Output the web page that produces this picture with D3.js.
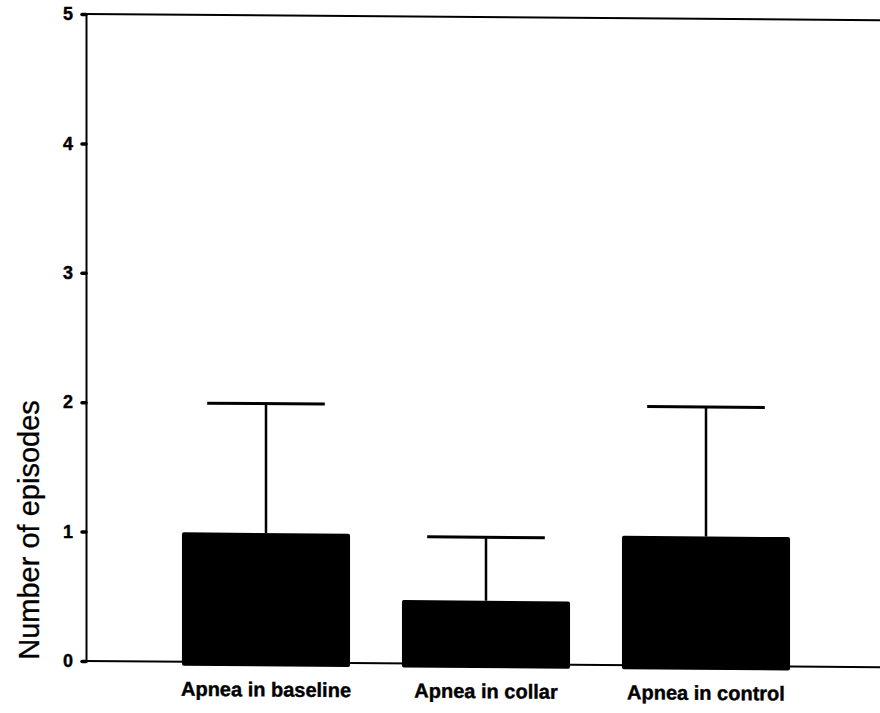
<!DOCTYPE html>
<html>
<head>
<meta charset="utf-8">
<script src="https://cdn.jsdelivr.net/npm/d3@7"></script>
<style>
  html, body { margin: 0; padding: 0; background: #fff; }
  svg { display: block; }
  text { font-family: "Liberation Sans", Arial, sans-serif; fill: #000; }
</style>
</head>
<body>
<svg id="chart" width="880" height="713"></svg>
<script>
const categories = ["Apnea in baseline", "Apnea in collar", "Apnea in control"];
const means = [1.0, 0.49, 1.0];
const upper = [2.0, 0.98, 2.0];
const yTicks = [0, 1, 2, 3, 4, 5];
const yTitle = "Number of episodes";

const svg = d3.select("#chart");
const x0 = 86, xEnd = 900;
// the scanned original slopes slightly downward to the right
const g = svg.append("g").attr("transform", `translate(${x0},0) skewY(0.45) translate(${-x0},0)`);

const y = d3.scaleLinear().domain([0, 5]).range([661, 14]);
const x = d3.scaleBand().domain(categories).range([156, 816])
  .paddingInner(0.236).paddingOuter(0.118);

// top frame line
g.append("line").attr("x1", x0).attr("x2", xEnd).attr("y1", y(5)).attr("y2", y(5))
  .attr("stroke", "#000").attr("stroke-width", 2);

// bars
g.selectAll("rect.bar").data(categories).enter().append("rect")
  .attr("class", "bar")
  .attr("x", d => x(d))
  .attr("width", x.bandwidth())
  .attr("y", (d, i) => y(means[i]))
  .attr("height", (d, i) => y(0) - y(means[i]) + 4)
  .attr("rx", 2)
  .attr("fill", "#000");

// error bars
const capW = x.bandwidth() * 0.7;
g.selectAll("line.err").data(categories).enter().append("line")
  .attr("class", "err")
  .attr("x1", d => x(d) + x.bandwidth() / 2)
  .attr("x2", d => x(d) + x.bandwidth() / 2)
  .attr("y1", (d, i) => y(means[i]))
  .attr("y2", (d, i) => y(upper[i]))
  .attr("stroke", "#000").attr("stroke-width", 2.5);
g.selectAll("line.cap").data(categories).enter().append("line")
  .attr("class", "cap")
  .attr("x1", d => x(d) + x.bandwidth() / 2 - capW / 2)
  .attr("x2", d => x(d) + x.bandwidth() / 2 + capW / 2)
  .attr("y1", (d, i) => y(upper[i]))
  .attr("y2", (d, i) => y(upper[i]))
  .attr("stroke", "#000").attr("stroke-width", 3);

// bottom axis line
g.append("line").attr("x1", x0).attr("x2", xEnd).attr("y1", y(0)).attr("y2", y(0))
  .attr("stroke", "#000").attr("stroke-width", 2);

// y axis
const yAxis = d3.axisLeft(y).tickValues(yTicks).tickSize(4).tickPadding(9)
  .tickFormat(d3.format("d"));
const ya = svg.append("g").attr("transform", `translate(${x0},0)`).call(yAxis);
ya.select(".domain").attr("stroke", "#000").attr("stroke-width", 2);
ya.selectAll(".tick line").attr("stroke", "#000").attr("stroke-width", 3.5)
  .attr("stroke-linecap", "round");
ya.selectAll(".tick text").attr("font-size", 18).attr("font-weight", "bold")
  .attr("font-family", "'Liberation Sans', Arial, sans-serif").attr("fill", "#000")
  .attr("stroke", "#000").attr("stroke-width", 0.4);

// category labels
g.selectAll("text.cat").data(categories).enter().append("text")
  .attr("class", "cat")
  .attr("x", d => x(d) + x.bandwidth() / 2)
  .attr("y", 695)
  .attr("text-anchor", "middle")
  .attr("font-size", 20).attr("font-weight", "bold")
  .attr("stroke", "#000").attr("stroke-width", 0.4)
  .text(d => d);

// y title
svg.append("text")
  .attr("transform", "translate(39,530) rotate(-90)")
  .attr("text-anchor", "middle")
  .attr("font-size", 29)
  .attr("stroke", "#000").attr("stroke-width", 0.3)
  .text(yTitle);
</script>
</body>
</html>
